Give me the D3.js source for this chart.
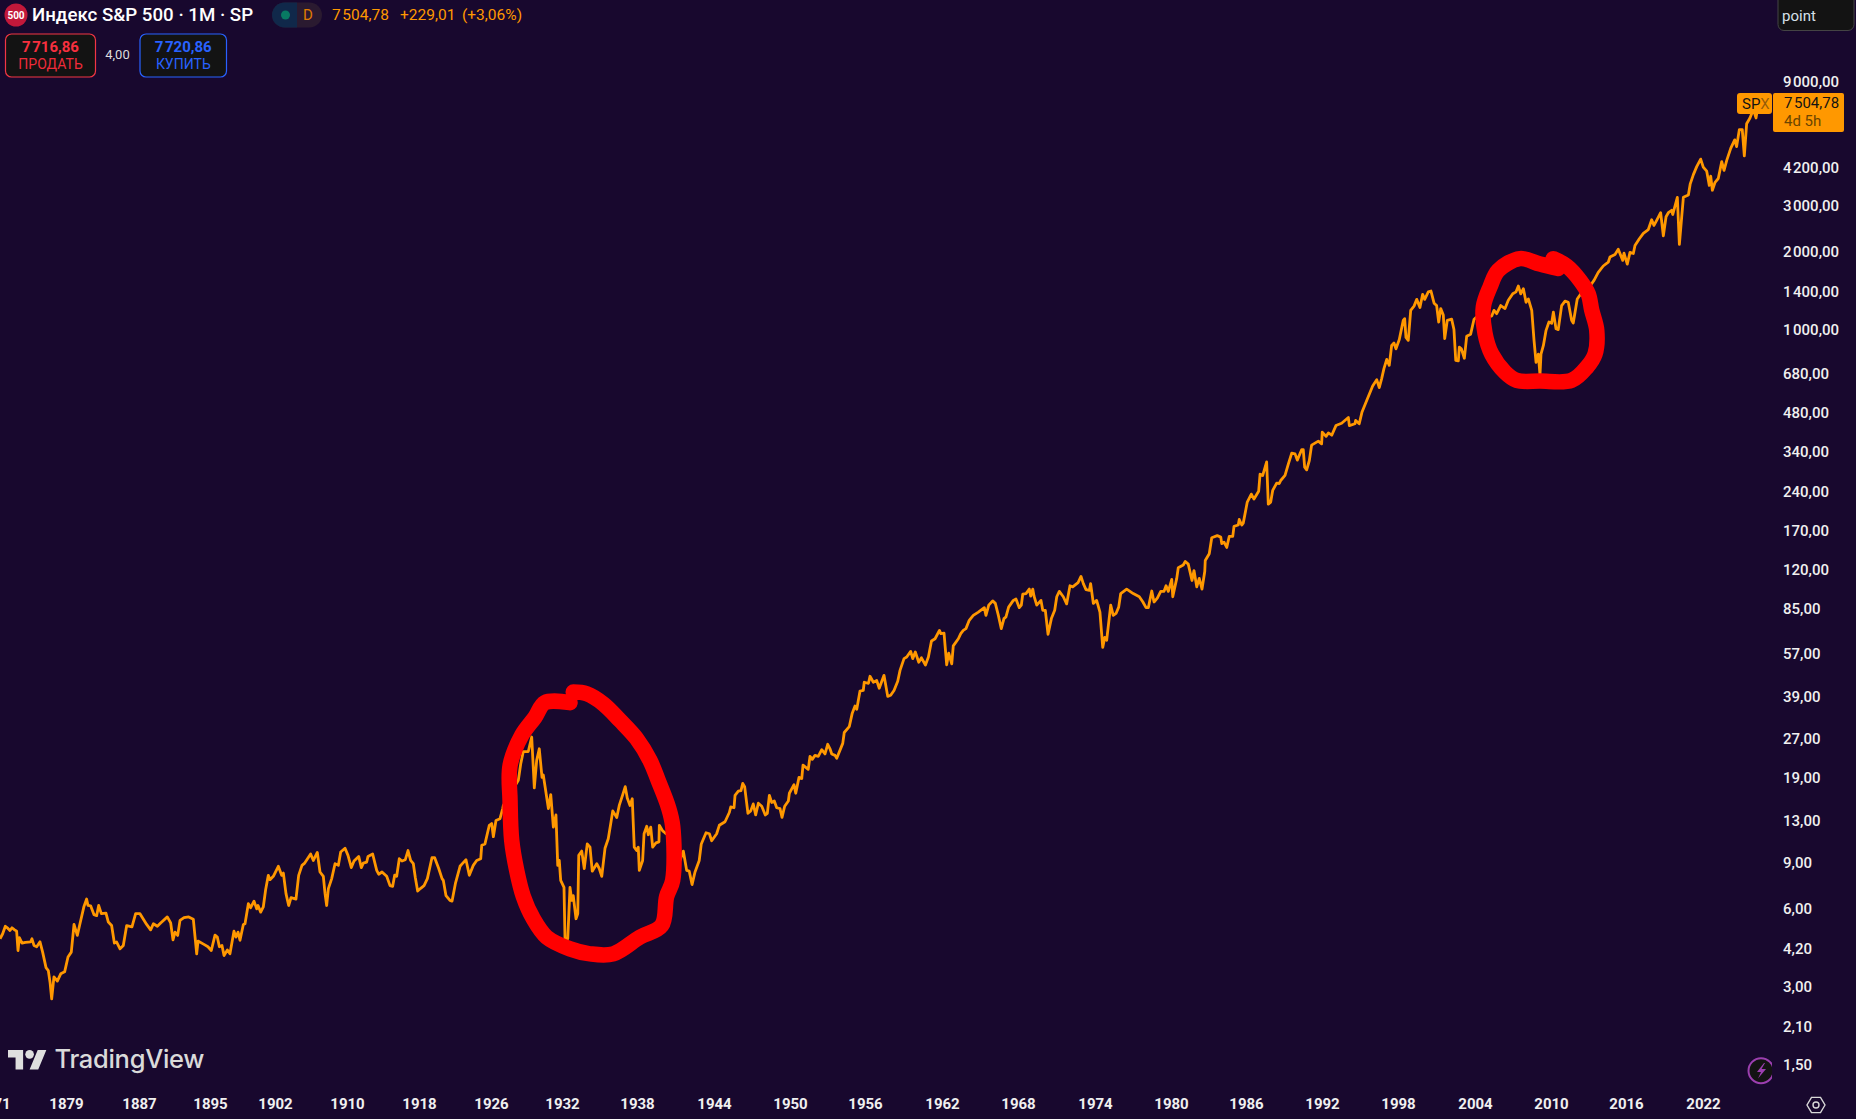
<!DOCTYPE html>
<html><head><meta charset="utf-8">
<script src="https://cdn.jsdelivr.net/npm/d3@7"></script>
<style>html,body{margin:0;padding:0;background:#18082e;overflow:hidden}svg{display:block}text{font-family:Roboto,sans-serif}</style>
</head><body><svg id="c" width="1856" height="1119"></svg>
<script>
const years=[1871.77,1872.06,1872.35,1872.64,1872.86,1873.08,1873.37,1873.59,1873.74,1873.89,1874.18,1874.54,1875.13,1875.27,1875.49,1875.79,1876.15,1876.44,1876.81,1877.06,1877.25,1877.43,1877.68,1878.05,1878.42,1878.85,1879.22,1879.58,1879.88,1880.24,1880.53,1880.97,1881.26,1881.41,1881.70,1882.07,1882.36,1882.58,1882.87,1883.38,1883.64,1884.0,1884.30,1884.55,1884.92,1885.28,1885.65,1886.23,1886.63,1887.11,1887.86,1888.31,1888.62,1889.07,1889.44,1890.19,1890.57,1890.83,1891.06,1891.36,1891.62,1892.07,1892.60,1893.12,1893.50,1893.65,1894.32,1894.77,1895.14,1895.54,1895.79,1896.01,1896.29,1896.51,1896.87,1897.15,1897.58,1897.80,1898.02,1898.23,1898.59,1898.77,1899.13,1899.38,1899.74,1900.03,1900.17,1900.46,1900.74,1900.99,1901.28,1901.46,1901.82,1902.37,1902.74,1902.93,1903.22,1903.52,1903.78,1904.33,1904.63,1905.0,1905.30,1905.96,1906.26,1906.70,1907.0,1907.37,1907.56,1907.74,1907.93,1908.30,1908.67,1909.04,1909.30,1909.78,1910.11,1910.48,1910.78,1911.30,1911.59,1911.81,1912.19,1912.33,1912.85,1913.30,1913.52,1913.89,1914.41,1914.78,1915.07,1915.30,1915.52,1915.81,1916.11,1916.48,1916.78,1917.07,1917.37,1917.59,1917.85,1918.19,1918.56,1918.93,1919.44,1919.74,1920.19,1920.56,1920.70,1921.0,1921.44,1921.67,1922.04,1922.56,
1922.74,1923.22,1923.59,1924.03,1924.41,1924.86,1924.97,1925.33,1925.81,1926.06,1926.2,1926.42,1926.76,1926.99,1927.04,1927.6,1928.31,1928.51,1928.73,1929.15,1929.44,1929.66,1929.86,1930.08,1930.31,1930.42,1930.85,1931.05,1931.27,1931.49,1931.64,1931.77,1931.89,1932.16,1932.24,1932.46,1932.64,1932.78,1932.90,1933.12,1933.26,1933.34,1933.58,1933.78,1934.02,1934.24,1934.42,1934.78,1934.98,1935.18,1935.44,1935.70,1935.90,1936.06,1936.38,1936.58,1936.86,1937.06,1937.22,1937.44,1937.62,1937.78,1937.97,1938.10,1938.18,1938.44,1938.55,1938.76,1938.88,1939.07,1939.22,1939.48,1939.71,1939.74,1940.0,1940.18,1940.70,1941.09,1941.35,1941.61,1941.87,1942.07,1942.29,1942.52,1942.85,1943.01,1943.38,1943.64,1943.82,1944.21,1944.42,
1944.87,1945.21,1945.32,1945.58,1945.66,1945.92,1946.13,1946.27,1946.42,1946.68,1946.90,1947.10,1947.29,1947.50,1947.77,1948.05,1948.21,1948.37,1948.55,1948.76,1948.95,1949.21,1949.37,1949.58,1949.87,1949.95,1950.32,1950.46,1950.72,1950.94,1951.04,1951.46,1951.60,1951.78,1952.0,1952.26,1952.54,1952.80,1953.02,1953.20,1953.34,1953.60,1953.74,1954.22,1954.34,1954.74,1954.98,1955.20,1955.34,1955.60,1955.86,1955.94,1956.27,
1956.39,1956.65,1956.91,1957.11,1957.48,1957.77,1958.0,1958.26,1958.55,1958.73,1959.04,1959.25,1959.56,1959.72,1959.92,1960.19,1960.40,1960.71,1960.94,1961.18,1961.46,1961.80,1961.91,1962.16,1962.37,1962.53,1962.77,1962.89,1963.29,1963.48,1963.68,1963.89,1964.15,1964.47,1964.87,1965.34,1965.47,1965.69,1966.0,1966.21,1966.45,1966.68,1966.89,1967.05,1967.26,1967.63,1967.84,1968.10,1968.26,1968.37,1968.62,1968.88,1968.99,1969.15,1969.25,1969.46,1969.79,1969.93,1970.13,1970.34,1970.60,1970.86,1971.02,1971.22,1971.53,1971.79,1972.05,1972.26,1972.68,1972.91,1973.09,1973.30,1973.56,1973.66,1973.87,1974.13,1974.39,1974.61,1974.77,1974.92,1975.24,1975.44,1975.66,1975.87,1976.03,1976.50,1977.02,1977.50,1977.77,1978.03,1978.21,1978.48,1978.66,1978.92,1979.19,1979.45,1979.61,1979.79,1980.06,1980.14,1980.46,1980.58,1980.98,1981.14,1981.38,1981.68,1981.84,1982.06,1982.26,1982.48,1982.70,1982.74,1983.06,
1983.26,1983.70,1983.98,1984.06,1984.24,1984.46,1984.66,1984.94,1985.04,1985.38,1985.46,1985.66,1985.78,1986.10,1986.42,1986.63,1987.0,1987.11,1987.32,1987.63,1987.76,1987.95,1988.11,1988.42,1988.63,1988.74,1989.08,1989.34,1989.61,1989.87,1990.05,1990.40,1990.52,1990.63,1990.79,1991.0,1991.18,1991.71,1991.97,1992.02,1992.32,1992.50,1992.77,1993.10,1993.55,1994.08,1994.16,1994.60,1994.66,1994.94,1995.16,1995.53,
1996.0,1996.32,1996.52,1996.71,1996.89,1997.11,1997.31,1997.50,1997.68,1997.84,1998.10,1998.41,1998.52,1998.62,1998.80,1998.99,1999.25,1999.46,1999.71,1999.92,2000.08,2000.36,2000.57,2000.81,2001.01,2001.17,2001.33,2001.53,2001.64,2001.84,2002.18,2002.36,2002.50,2002.70,2002.78,2002.94,2003.17,2003.35,2003.66,2003.92,2004.08,2004.66,
2005.32,2005.50,2005.71,2006.03,2006.37,2006.63,2006.98,2007.24,2007.42,2007.61,2007.82,2008.03,2008.21,2008.48,2008.66,2008.82,2009.0,2009.13,2009.21,2009.40,2009.61,2009.84,2010.05,2010.19,2010.40,2010.58,2010.85,2011.12,2011.38,2011.65,2011.78,2012.10,2012.58,2013.12,2013.44,2013.78,2014.18,2014.58,2014.72,2015.12,2015.38,2015.74,2015.84,2016.10,2016.31,2016.57,2016.70,2017.04,
2017.35,2017.74,2018.0,2018.18,2018.39,2018.70,2018.91,2019.12,2019.30,2019.56,2019.64,2020.0,2020.16,2020.47,2020.86,2021.0,2021.25,2021.51,2021.82,2022.02,2022.29,2022.49,2022.60,2022.73,2022.94,2023.19,2023.46,2023.64,2023.85,2024.16,2024.47,2024.62,2024.83,2025.06,2025.22,2025.40,2025.66,2025.92,2026.13,2026.26,2026.3];
const closes=[4.58,4.79,5.12,5.02,4.93,5.05,4.96,4.90,4.13,4.63,4.41,4.44,4.46,4.58,4.32,4.27,4.46,4.07,3.55,3.46,3.12,2.69,3.27,3.15,3.36,3.42,3.90,4.07,5.20,4.72,5.23,6.10,6.51,6.15,6.13,5.67,5.62,6.15,5.72,5.75,5.31,5.15,4.41,4.45,4.19,4.32,5.15,5.09,5.72,5.72,5.20,4.96,5.23,5.12,5.27,5.56,5.27,4.54,4.86,4.72,5.39,5.52,5.56,5.45,4.01,4.49,4.36,4.27,4.13,4.73,4.65,4.27,4.32,3.95,4.15,4.01,4.90,4.65,4.86,4.52,5.20,5.23,6.25,6.03,6.39,5.97,6.15,5.80,6.07,7.07,8.03,7.73,7.96,8.70,8.03,8.19,6.83,6.15,6.59,6.51,8.03,8.77,8.95,9.70,9.16,9.83,8.27,7.96,6.83,6.15,7.14,7.80,8.90,8.77,9.87,10.2,9.58,8.60,9.11,9.49,8.60,8.95,9.03,9.49,9.70,8.39,8.11,8.27,7.96,7.33,7.28,8.05,7.96,9.30,9.11,9.22,10.0,9.16,8.90,7.88,6.99,7.16,7.33,7.80,9.38,9.38,8.53,7.80,7.68,6.71,6.43,6.39,7.46,8.70,
8.85,9.22,8.03,8.77,9.16,9.30,10.47,10.6,12.5,12.7,11.3,13.05,13.25,14.5,14.9,16.4,18.6,21.5,24.0,24.0,27.3,17.4,22.2,24.6,19.1,19.5,14.5,16.4,12.3,13.7,8.77,9.16,7.68,7.22,4.58,4.58,7.22,6.43,6.71,5.47,5.72,9.58,9.95,8.53,10.6,10.3,8.33,8.90,8.53,7.96,10.2,11.1,12.7,14.2,13.4,14.9,16.4,17.6,15.9,14.9,15.8,10.3,10.0,10.3,8.39,9.16,11.6,12.4,11.5,12.3,10.3,10.7,10.8,12.5,11.9,11.7,11.2,10.0,9.16,9.95,8.39,8.33,7.40,8.27,9.16,10.6,11.7,11.6,10.9,11.6,12.5,
12.9,14.0,14.7,14.6,16.3,16.9,17.0,18.1,17.6,13.9,14.2,15.1,13.7,15.2,14.8,13.7,13.9,16.3,15.3,15.5,14.6,14.5,13.4,14.8,15.5,16.6,17.9,16.6,19.1,18.9,21.3,20.5,23.0,22.4,23.2,23.0,24.4,23.5,25.6,24.6,23.5,23.2,22.6,25.8,28.4,29.9,33.7,35.9,34.9,41.0,41.2,44.3,43.9,
46.7,44.3,45.0,42.0,47.1,39.1,39.5,41.2,44.7,49.2,54.6,55.4,58.2,54.6,57.9,52.9,55.0,51.6,55.4,63.8,65.1,70.1,68.1,68.4,51.7,57.3,52.1,61.1,65.1,68.1,70.1,71.2,76.6,80.0,82.4,85.7,80.0,87.6,91,89.0,80.0,71.2,77.8,79.0,86.1,91.4,92.5,85.7,87.6,96.5,97.1,101,94.9,101,94.9,87.6,91.4,83.7,83.7,67.7,77.8,83.7,94.4,99.0,94.4,88.6,104,103,107,113,106,100.5,99.9,106,89.0,91.4,82.4,60.3,65.9,64.2,87.6,80.0,81.4,86.1,97.1,101,97.1,94.4,90.3,85.7,85.7,99.3,90.1,93.2,99.0,99.0,104,99.0,110,94.4,111,122,125,129,126,109,119,103,111,101,118,130,138,
159,162,160,151,153,146,161,161,176,178,187,178,181,218,234,224,240,279,276,311,214,218,242,258,257,264,276,305,336,334,316,347,347,297,290,315,361,374,365,405,390,402,394,429,438,461,429,436,449,436,484,536,
609,644,600,650,710,770,731,872,890,846,918,1088,1105,936,912,1189,1234,1310,1219,1370,1310,1400,1410,1267,1240,1072,1208,1140,926,1088,1100,1003,764,760,858,846,778,945,963,1097,1117,1122,
1130,1189,1154,1240,1208,1299,1376,1400,1475,1376,1440,1277,1315,1189,912,750,807,672,807,872,996,1072,1060,1170,1010,1003,1240,1290,1277,1088,1062,1315,1419,1475,1550,1663,1760,1820,1905,1950,2040,1850,1970,1790,1985,1965,2110,2240,
2350,2430,2650,2520,2635,2820,2300,2720,2820,2880,2775,3230,2130,3230,3300,3630,3950,4240,4530,4220,4070,3590,3895,3440,3690,3815,4430,4100,4480,4980,5370,5060,5880,5880,4660,6190,6520,7030,6520,7140,7504.78];

// Hand-drawn red rings, in chart coordinates
const ring1Years=[1932.90,1933.98,1935.30,1936.64,1937.97,1939.01,1939.65,1940.44,1940.78,1940.78,1940.31,1939.92,1938.23,1936.10,1934.24,1932.64,1930.70,1929.57,1928.73,1928.17,1927.75,1927.61,1927.61,1928.60,1929.72,1930.56,1932.64];
const ring1Values=[40.6,40.0,36.6,31.6,26.9,22.2,18.6,14.7,12.4,7.68,6.66,5.15,4.65,4.01,4.01,4.19,4.65,5.47,6.66,8.39,10.94,15.58,21.2,27.7,32.5,37.0,37.0];
const ring2Years=[2010.18,2011.26,2012.32,2012.98,2013.26,2013.66,2013.52,2012.86,2011.66,2009.13,2007.29,2006.37,2005.32,2004.79,2004.66,2005.19,2005.84,2007.55,2009.13,2010.58];
const ring2Values=[1878,1760,1550,1376,1189,996,807,718,640,636,640,688,807,970,1226,1463,1693,1878,1790,1721];

const xTickYears=[1879,1887,1895,1902,1910,1918,1926,1932,1938,1944,1950,1956,1962,1968,1974,1980,1986,1992,1998,2004,2010,2016,2022];
const xAnchorYears=[1871].concat(xTickYears);
const xTickLabels=["1871"].concat(xTickYears.map(String));
const yTicks=[9000,4200,3000,2000,1400,1000,680,480,340,240,170,120,85,57,39,27,19,13,9,6,4.2,3,2.1,1.5];

const ORANGE="#ff9800",BG="#18082e";
const svg=d3.select("#c");
svg.append("rect").attr("width",1856).attr("height",1119).attr("fill",BG);

const x=d3.scaleLinear().domain(xAnchorYears)
  .range([-7,66,139,210,275,347,419,491,562,637,714,790,865,942,1018,1095,1171,1246,1322,1398,1475,1551,1626,1703]);
const y=d3.scaleLog().domain([1.5,9000]).range([1065,81.5]);

const line=d3.line().x(d=>x(d[0])).y(d=>y(d[1]));
svg.append("path").attr("d",line(d3.zip(years,closes))).attr("fill","none")
  .attr("stroke",ORANGE).attr("stroke-width",2.8).attr("stroke-linejoin","round");

const ring=d3.line().x(d=>x(d[0])).y(d=>y(d[1])).curve(d3.curveCatmullRom);
[[ring1Years,ring1Values],[ring2Years,ring2Values]].forEach(([a,b])=>{
  svg.append("path").attr("d",ring(d3.zip(a,b))).attr("fill","none").attr("stroke","#ff0000")
    .attr("stroke-width",15.5).attr("stroke-linecap","round").attr("stroke-linejoin","round");
});

// axes
const loc=d3.formatLocale({decimal:",",thousands:"\u200a",grouping:[3],currency:["",""]});
const fmt=loc.format(",.2f");
const gy=svg.append("g").attr("transform","translate(1783,0)")
  .call(d3.axisRight(y).tickValues(yTicks).tickSize(0).tickPadding(0).tickFormat(fmt));
gy.select(".domain").remove();
gy.selectAll("text").attr("fill","#f0f0f0").style("font-size","15px").style("font-weight","500").style("font-family","Roboto,sans-serif").attr("text-anchor","start");

const gx=svg.append("g").attr("transform","translate(0,1109)")
  .call(d3.axisBottom(x).tickValues(xAnchorYears).tickSize(0).tickFormat(d=>xTickLabels[xAnchorYears.indexOf(d)]));
gx.select(".domain").remove();
gx.selectAll("text").attr("y",0).attr("dy",0).attr("fill","#f0f0f0").style("font-size","15px").style("font-weight","700").style("font-family","Roboto,sans-serif");

// header
const T=(s,px,py,size,fill,opt={})=>{const t=svg.append("text").attr("x",px).attr("y",py).attr("fill",fill).style("font-size",size+"px").text(s);
  if(opt.weight)t.style("font-weight",opt.weight); if(opt.anchor)t.attr("text-anchor",opt.anchor); if(opt.family)t.style("font-family",opt.family); return t;};
svg.append("circle").attr("cx",16).attr("cy",15).attr("r",11.5).attr("fill","#c2183a");
T("500",16,18.5,10,"#fff",{weight:700,anchor:"middle"});
T("Индекс S&P 500 · 1M · SP",32,21,18.7,"#ffffff",{weight:500});
svg.append("rect").attr("x",272).attr("y",2.5).attr("width",50).attr("height",25).attr("rx",12.5).attr("fill","#2a1a30");
svg.append("path").attr("d","M297,2.5H284.5a12.5,12.5 0 0 0 0,25H297Z").attr("fill","#10284a");
svg.append("circle").attr("cx",285.5).attr("cy",15).attr("r",4.5).attr("fill","#087a63");
T("D",308,20,15,"#e07b00",{anchor:"middle"});
T("7\u200a504,78",332,19.5,15.5,ORANGE);
T("+229,01",400,19.5,15.5,ORANGE);
T("(+3,06%)",462,19.5,15.5,ORANGE);
svg.append("rect").attr("x",5.5).attr("y",34).attr("width",90).attr("height",43).attr("rx",6).attr("fill","#131313").attr("stroke","#f23645").attr("stroke-width",1.2);
T("7\u200a716,86",50.5,52,15,"#f7303f",{weight:700,anchor:"middle"});
T("ПРОДАТЬ",50.5,69,14,"#ef2b3a",{anchor:"middle"});
T("4,00",117.5,59,13,"#dddddd",{anchor:"middle"});
svg.append("rect").attr("x",140).attr("y",34).attr("width",86.5).attr("height",43).attr("rx",6).attr("fill","#131313").attr("stroke","#2962ff").attr("stroke-width",1.2);
T("7\u200a720,86",183.3,52,15,"#2962ff",{weight:700,anchor:"middle"});
T("КУПИТЬ",183.3,69,14,"#2962ff",{anchor:"middle"});

// top-right box
svg.append("rect").attr("x",1778).attr("y",-8).attr("width",76).attr("height",38.5).attr("rx",6).attr("fill","#131313").attr("stroke","#444444");
T("point",1782,20.5,15,"#d5e0ea");

// price labels
svg.append("rect").attr("x",1773).attr("y",93).attr("width",71).attr("height",39).attr("rx",2).attr("fill",ORANGE);
T("7\u200a504,78",1784,108,15,"#131313");
T("4d 5h",1784,126,15,"#6b4500");
svg.append("rect").attr("x",1737).attr("y",93).attr("width",35).attr("height",21).attr("rx",3).attr("fill",ORANGE);
const spx=T("SP",1742,109,15,"#131313");
spx.append("tspan").attr("fill-opacity",0.45).text("X");

// logo
const logo=svg.append("g").attr("transform","translate(8,1045.7) scale(1.08)").attr("fill","#dedede");
logo.append("path").attr("d","M14 22H7V11H0V4h14v18zM28 22h-8l7.5-18h8L28 22z");
logo.append("circle").attr("cx",20).attr("cy",8).attr("r",4);
T("TradingView",54.5,1068,25.5,"#dadada",{weight:500,family:"Inter,sans-serif"}).style("letter-spacing","-0.3px");

// icons
const clip=svg.append("clipPath").attr("id","bolt");clip.append("rect").attr("x",1740).attr("y",1050).attr("width",32).attr("height",40);
const ic=svg.append("g").attr("clip-path","url(#bolt)");
ic.append("circle").attr("cx",1761).attr("cy",1070.7).attr("r",12.5).attr("fill","#131313").attr("stroke","#9c3fb0").attr("stroke-width",2);
ic.append("path").attr("d","M1764,1063l-7,9h4l-3,6.5l8-9.5h-4.5l3.5,-6Z").attr("fill","#9c3fb0");
const hex=d3.range(6).map(i=>[1816+9*Math.cos(i*Math.PI/3),1105+8.8*Math.sin(i*Math.PI/3)]);
svg.append("path").attr("d","M"+hex.join("L")+"Z").attr("fill","none").attr("stroke","#d8d8d8").attr("stroke-width",1.4);
svg.append("circle").attr("cx",1816).attr("cy",1105).attr("r",3).attr("fill","none").attr("stroke","#d8d8d8").attr("stroke-width",1.4);
</script></body></html>
